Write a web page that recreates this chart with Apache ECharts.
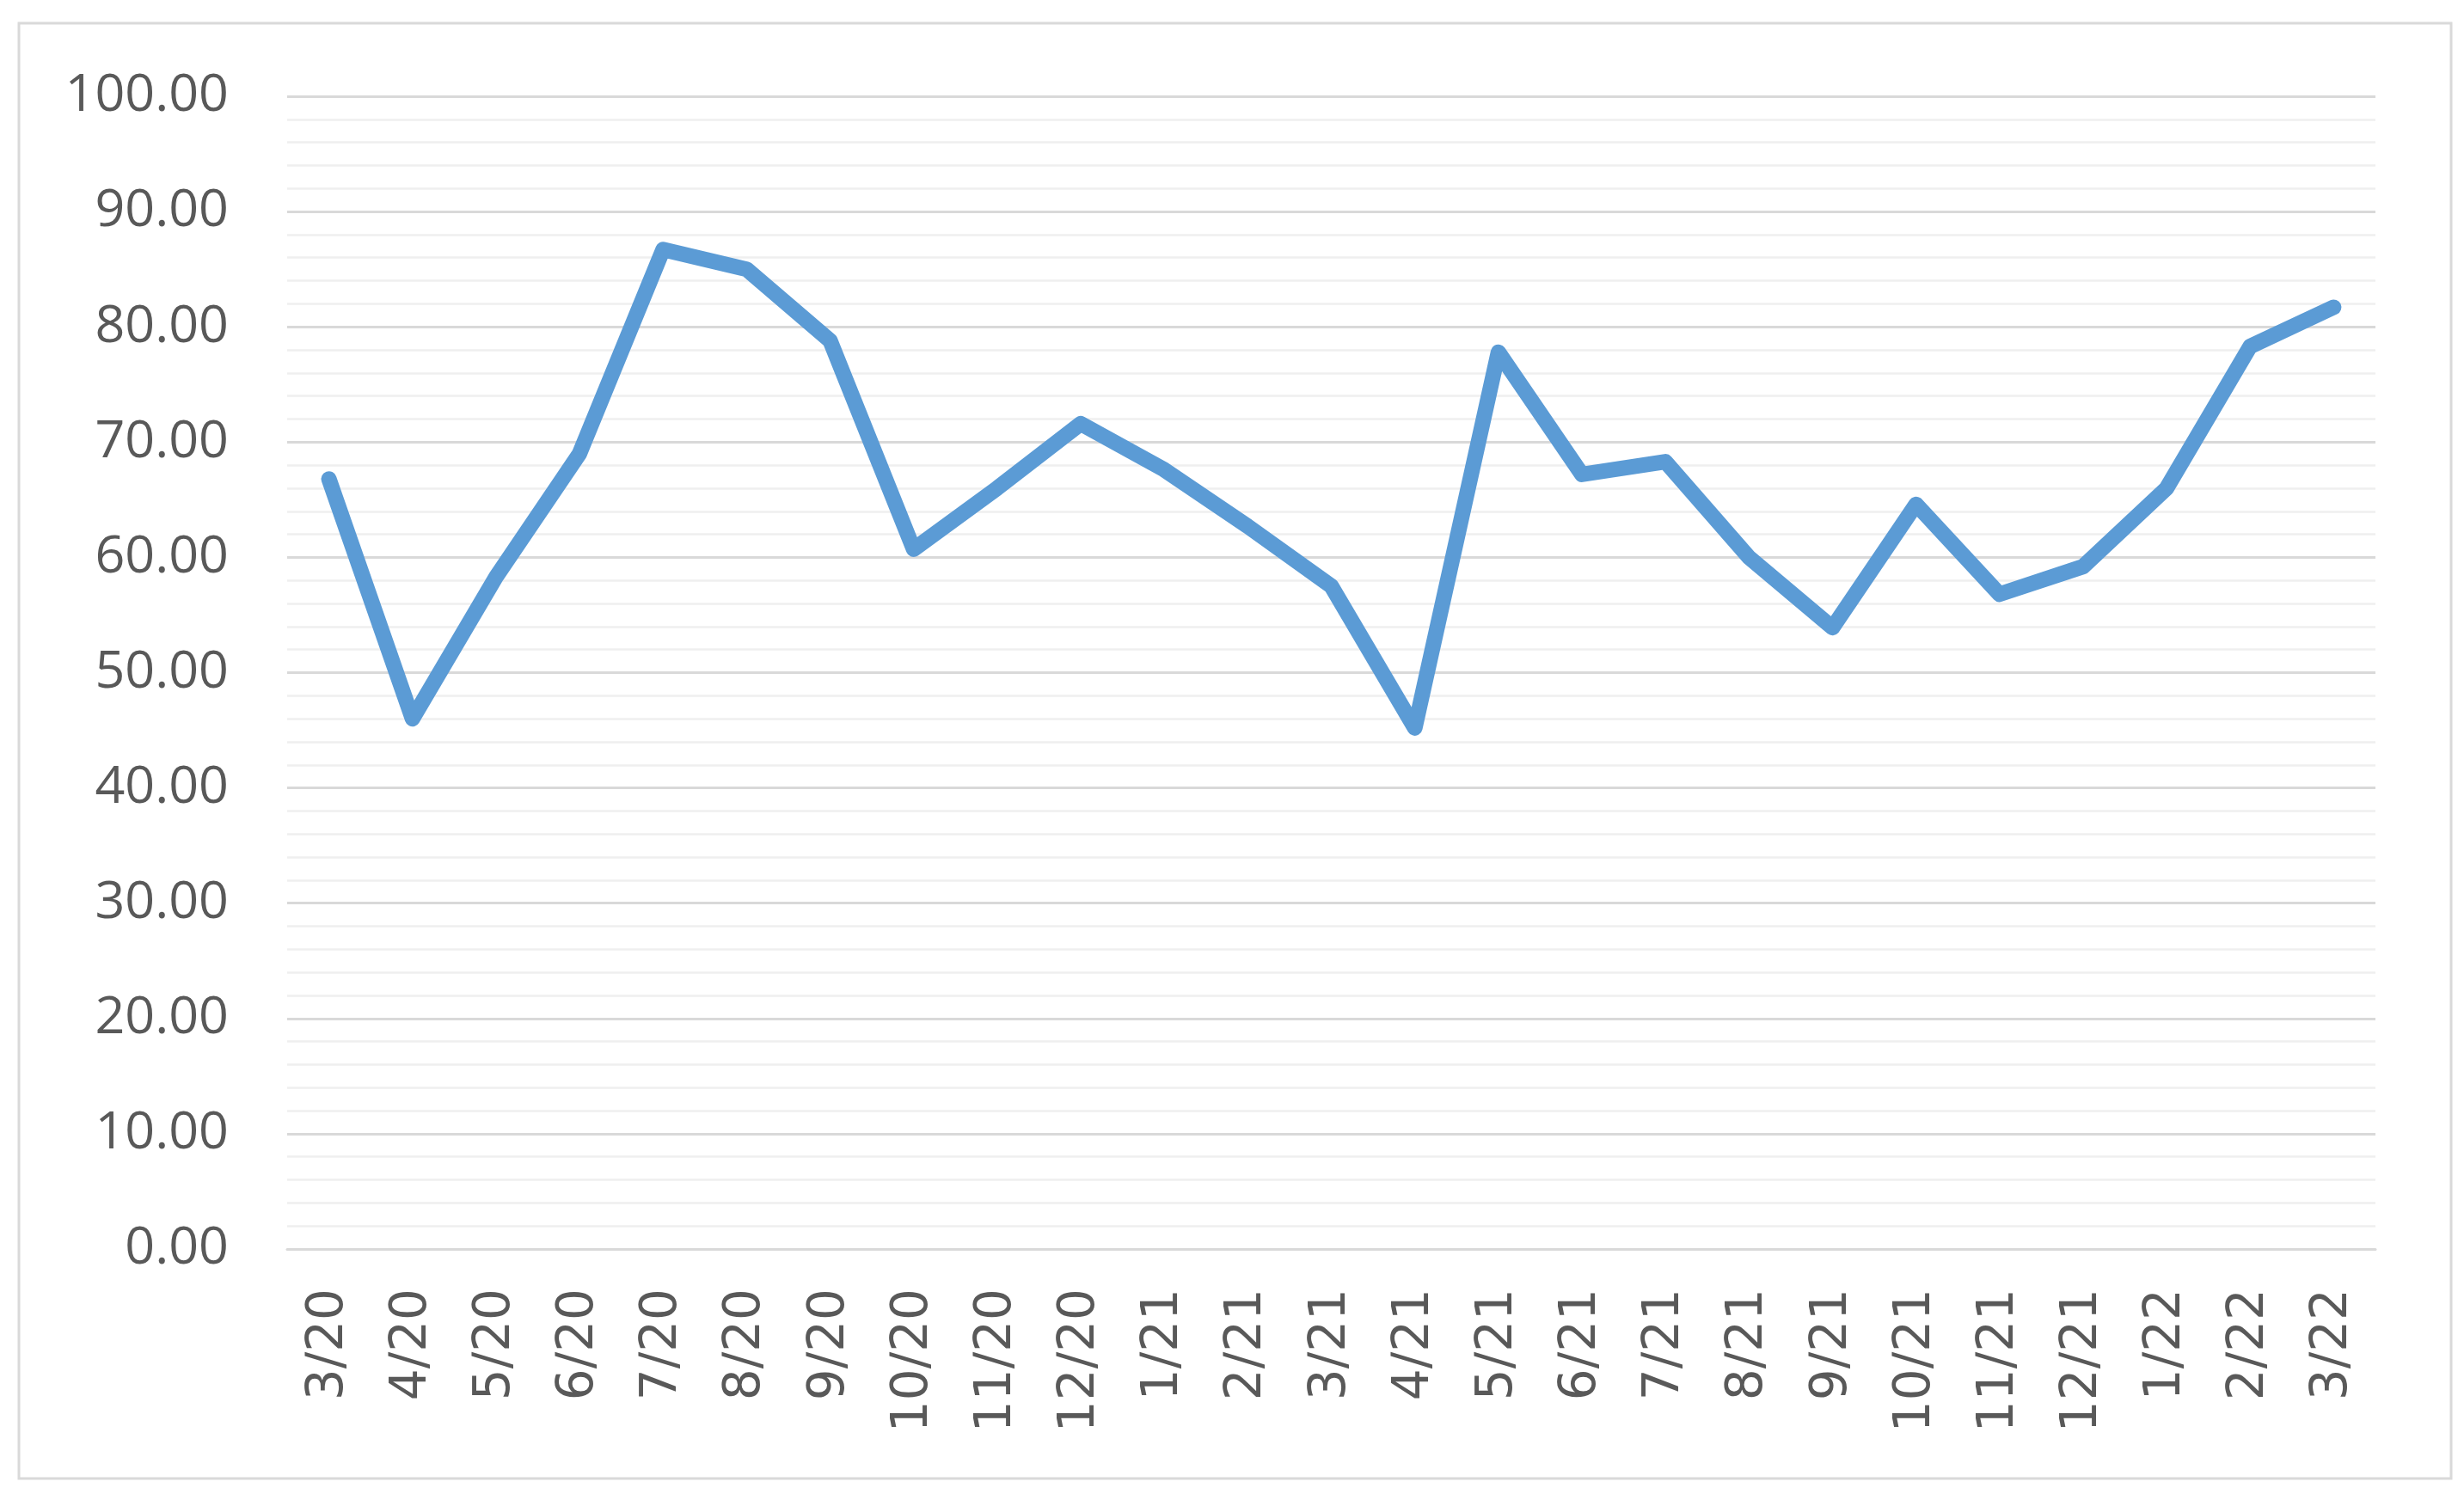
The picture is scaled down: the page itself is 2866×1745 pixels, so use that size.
<!DOCTYPE html>
<html>
<head>
<meta charset="utf-8">
<script src="https://cdn.jsdelivr.net/npm/echarts@6/dist/echarts.min.js"></script>
<style>
  html, body { margin: 0; padding: 0; background: #fff; }
  #chart { width: 2866px; height: 1745px; }
</style>
</head>
<body>
<div id="chart"></div>
<script>
// month labels (m/yy)
const months = ['3/20', '4/20', '5/20', '6/20', '7/20', '8/20', '9/20', '10/20', '11/20', '12/20',
  '1/21', '2/21', '3/21', '4/21', '5/21', '6/21', '7/21', '8/21', '9/21', '10/21', '11/21', '12/21',
  '1/22', '2/22', '3/22'];

// values
const values = [66.8, 46.0, 58.3, 69.0, 86.7, 85.0, 78.8, 60.7, 66.0, 71.6,
  67.6, 62.7, 57.5, 45.2, 77.8, 67.2, 68.3, 60.0, 53.9, 64.6, 56.8, 59.2,
  66.0, 78.3, 81.7];

const yMin = 0;
const yMax = 100;
const yStep = 10;

const chart = echarts.init(document.getElementById('chart'));
chart.setOption({
  animation: false,
  backgroundColor: '#fff',
  graphic: [{
    type: 'rect',
    shape: { x: 22, y: 27, width: 2829, height: 1693 },
    style: { fill: 'none', stroke: '#d9d9d9', lineWidth: 3 },
    silent: true
  }],
  grid: {
    left: 334,
    right: 103,
    top: 112,
    bottom: 292,
    containLabel: false
  },
  xAxis: {
    type: 'category',
    data: months,
    boundaryGap: true,
    axisLine: { show: true, lineStyle: { color: '#d9d9d9', width: 3 } },
    axisTick: { show: false },
    axisLabel: {
      rotate: 90,
      margin: 46,
      interval: 0,
      color: '#595959',
      fontSize: 58,
      fontFamily: 'DejaVu Sans'
    },
    splitLine: { show: false }
  },
  yAxis: {
    type: 'value',
    min: yMin,
    max: yMax,
    interval: yStep,
    axisLine: { show: false },
    axisTick: { show: false },
    axisLabel: {
      margin: 68,
      color: '#595959',
      fontSize: 61,
      fontFamily: 'Open Sans',
      formatter: v => v.toFixed(2)
    },
    splitLine: { show: true, lineStyle: { color: '#d9d9d9', width: 3 } },
    minorTick: { show: false, splitNumber: 5 },
    minorSplitLine: { show: true, lineStyle: { color: '#efefef', width: 2.5 } }
  },
  series: [{
    type: 'line',
    data: values,
    symbol: 'none',
    lineStyle: { color: '#5b9bd5', width: 18, cap: 'round', join: 'round' },
    z: 5
  }]
});
</script>
</body>
</html>
